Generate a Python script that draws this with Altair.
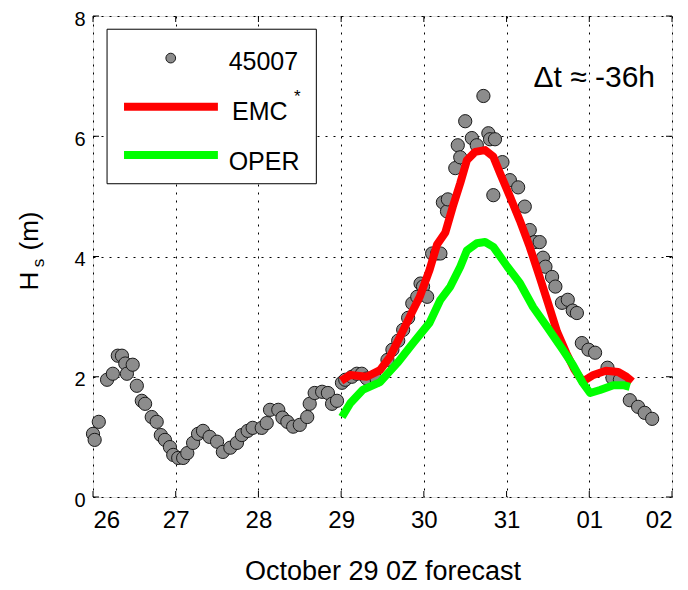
import altair as alt
import pandas as pd

# ---------------- data ----------------
obs_day = [26.00, 26.02, 26.07, 26.17, 26.24, 26.30, 26.35, 26.39, 26.41, 26.48,
           26.53, 26.59, 26.63, 26.71, 26.77, 26.82, 26.87, 26.93, 26.97, 27.03,
           27.09, 27.14, 27.21, 27.27, 27.33, 27.41, 27.50, 27.57, 27.66, 27.74,
           27.80, 27.87, 27.93, 28.04, 28.10, 28.14, 28.24, 28.29, 28.35, 28.42,
           28.50, 28.59, 28.62, 28.68, 28.77, 28.84, 28.89, 28.95, 29.01, 29.05,
           29.13, 29.19, 29.25, 29.31, 29.43, 29.56, 29.62, 29.69, 29.75, 29.81,
           29.86, 29.92, 29.96, 29.99, 30.04, 30.10, 30.16, 30.20, 30.23, 30.28,
           30.29, 30.38, 30.41, 30.44, 30.50, 30.58, 30.64, 30.72, 30.78, 30.80,
           30.84, 30.86, 30.95, 31.04, 31.14, 31.22, 31.28, 31.34, 31.40, 31.44,
           31.47, 31.55, 31.59, 31.67, 31.74, 31.80, 31.85, 31.91, 31.99, 32.07,
           32.22, 32.28, 32.37, 32.49, 32.59, 32.67, 32.76]
obs_hs = [1.05, 0.95, 1.25, 1.95, 2.05, 2.35, 2.35, 2.22, 2.05, 2.20,
          1.85, 1.60, 1.55, 1.33, 1.25, 1.03, 0.95, 0.83, 0.70, 0.65,
          0.65, 0.73, 0.90, 1.05, 1.10, 1.00, 0.92, 0.75, 0.82, 0.90,
          1.03, 1.10, 1.15, 1.15, 1.23, 1.45, 1.45, 1.32, 1.25, 1.17,
          1.20, 1.33, 1.55, 1.73, 1.75, 1.73, 1.55, 1.60, 1.90, 1.95,
          2.00, 2.05, 2.05, 1.97, 1.95, 2.28, 2.45, 2.60, 2.78, 2.98,
          3.22, 3.33, 3.55, 3.50, 3.33, 4.05, 4.05, 4.05, 4.90, 4.75,
          4.95, 5.47, 5.85, 5.65, 6.25, 5.97, 5.85, 6.67, 6.05, 5.95,
          5.02, 5.95, 5.57, 5.27, 5.15, 4.83, 4.44, 4.24, 4.24, 3.98,
          3.83, 3.66, 3.50, 3.23, 3.28, 3.10, 3.06, 2.56, 2.45, 2.40,
          2.15, 1.98, 1.95, 1.61, 1.50, 1.40, 1.30]

emc_day = [29.00, 29.11, 29.31, 29.47, 29.59, 29.71, 29.83, 29.95, 30.07, 30.16,
           30.26, 30.35, 30.44, 30.52, 30.62, 30.74, 30.84, 30.92, 31.04, 31.16,
           31.28, 31.40, 31.50, 31.61, 31.72, 31.82, 31.92, 32.05, 32.20, 32.35,
           32.45, 32.52]
emc_hs = [1.93, 2.03, 2.00, 2.11, 2.33, 2.66, 3.00, 3.33, 3.78, 4.20,
          4.40, 4.83, 5.22, 5.60, 5.74, 5.77, 5.66, 5.39, 5.00, 4.60,
          4.16, 3.66, 3.23, 2.75, 2.40, 2.12, 1.92, 2.03, 2.10, 2.08,
          2.00, 1.92]

oper_day = [29.01, 29.11, 29.26, 29.47, 29.68, 29.87, 30.07, 30.20, 30.32, 30.44,
            30.52, 30.64, 30.74, 30.84, 31.01, 31.16, 31.32, 31.49, 31.68, 31.80,
            31.92, 32.01, 32.13, 32.29, 32.41, 32.49]
oper_hs = [1.33, 1.56, 1.78, 1.91, 2.23, 2.56, 2.90, 3.28, 3.50, 3.83,
           4.10, 4.22, 4.24, 4.16, 3.83, 3.56, 3.16, 2.83, 2.45, 2.20,
           1.90, 1.73, 1.78, 1.86, 1.86, 1.83]

x_ticks = [26, 27, 28, 29, 30, 31, 32, 33]
y_ticks = [0, 2, 4, 6, 8]

series_names = ["45007", "EMC", "OPER"]

# ---------------- layout / style ----------------
W, H = 579, 481
FONT = "Liberation Sans"
TICK = 6

xs = alt.Scale(domain=[26, 33], nice=False, zero=False)
ys = alt.Scale(domain=[0, 8], nice=False, zero=False)

label_expr = ("datum.value > 31 ? format(datum.value - 31, '02d') : "
              "format(datum.value, 'd')")

x_axis = alt.Axis(values=x_ticks, labelExpr=label_expr, title="October 29 0Z forecast",
                  grid=True, gridDash=[2, 6], gridColor="black", gridWidth=1,
                  gridOpacity=1, ticks=False, domain=False, labelFontSize=24,
                  labelPadding=11, titleFontSize=27, titlePadding=26,
                  titleFontWeight="normal", labelFont=FONT, titleFont=FONT,
                  labelColor="black", titleColor="black")
y_axis = alt.Axis(values=y_ticks, title="", grid=True, gridDash=[2, 6],
                  gridColor="black", gridWidth=1, gridOpacity=1, ticks=False,
                  domain=False, labelFontSize=20, labelPadding=8, labelFont=FONT,
                  labelColor="black", labelOffset=3)


def X(field="day"):
    return alt.X(f"{field}:Q", scale=xs, axis=x_axis)


def Y(field="hs"):
    return alt.Y(f"{field}:Q", scale=ys, axis=y_axis)


obs_df = pd.DataFrame({"day": obs_day, "hs": obs_hs})
emc_df = pd.DataFrame({"day": emc_day, "hs": emc_hs})
oper_df = pd.DataFrame({"day": oper_day, "hs": oper_hs})
xt_df = pd.DataFrame({"day": x_ticks})
yt_df = pd.DataFrame({"hs": y_ticks})

points = alt.Chart(obs_df).mark_point(
    shape="circle", filled=True, size=175, fill="#8c8c8c", fillOpacity=1,
    stroke="#1a1a1a", strokeWidth=1, opacity=1
).encode(x=X(), y=Y())

emc_line = alt.Chart(emc_df).mark_line(
    color="#ff0000", strokeWidth=8, strokeJoin="round"
).encode(x=X(), y=Y(), order="day:Q")

oper_line = alt.Chart(oper_df).mark_line(
    color="#00ff00", strokeWidth=8, strokeJoin="round"
).encode(x=X(), y=Y(), order="day:Q")

# inward ticks on all four sides
tick_b = alt.Chart(xt_df).mark_rule(color="black", strokeWidth=1).encode(
    x=X(), y=alt.value(H), y2=alt.value(H - TICK))
tick_t = alt.Chart(xt_df).mark_rule(color="black", strokeWidth=1).encode(
    x=X(), y=alt.value(0), y2=alt.value(TICK))
tick_l = alt.Chart(yt_df).mark_rule(color="black", strokeWidth=1).encode(
    y=Y(), x=alt.value(0), x2=alt.value(TICK))
tick_r = alt.Chart(yt_df).mark_rule(color="black", strokeWidth=1).encode(
    y=Y(), x=alt.value(W), x2=alt.value(W - TICK))

# ---------------- legend (in data coordinates) ----------------
box_df = pd.DataFrame({"day": [26.17], "day2": [28.70], "hs": [7.78], "hs2": [5.21]})
legend_box = alt.Chart(box_df).mark_rect(
    fill="white", stroke="black", strokeWidth=1
).encode(x=X(), x2="day2:Q", y=Y(), y2="hs2:Q")

leg_pt = alt.Chart(pd.DataFrame({"day": [26.94], "hs": [7.30]})).mark_point(
    shape="circle", filled=True, size=95, fill="#8c8c8c", fillOpacity=1,
    stroke="#1a1a1a", strokeWidth=1, opacity=1
).encode(x=X(), y=Y())

leg_lines_df = pd.DataFrame({"day": [26.375, 26.375], "day2": [27.51, 27.51],
                             "hs": [6.49, 5.69], "name": series_names[1:]})
leg_lines = alt.Chart(leg_lines_df).mark_rule(strokeWidth=8).encode(
    x=X(), x2="day2:Q", y=Y(),
    color=alt.Color("name:N", scale=alt.Scale(domain=series_names[1:],
                                              range=["#ff0000", "#00ff00"]),
                    legend=None))

leg_text_df = pd.DataFrame({"day": [27.64, 27.68, 27.64],
                            "hs": [7.23, 6.40, 5.57],
                            "t": series_names})
leg_text = alt.Chart(leg_text_df).mark_text(
    align="left", baseline="middle", fontSize=25, font=FONT, color="black"
).encode(x=X(), y=Y(), text="t:N")

star = alt.Chart(pd.DataFrame({"day": [28.43], "hs": [6.66], "t": ["*"]})).mark_text(
    align="left", baseline="middle", fontSize=17, font=FONT, color="black"
).encode(x=X(), y=Y(), text="t:N")

dt_text = alt.Chart(pd.DataFrame({"day": [32.06], "hs": [6.97], "t": ["\u0394t \u2248 -36h"]})).mark_text(
    align="center", baseline="middle", fontSize=30, font=FONT, color="black"
).encode(x=X(), y=Y(), text="t:N")

# ---------------- y-axis title: H_s (m) ----------------
yt_H = alt.Chart(pd.DataFrame({"t": ["H"]})).mark_text(
    angle=270, align="center", baseline="middle", fontSize=26, font=FONT, color="black"
).encode(x=alt.value(-63), y=alt.value(265), text="t:N")
yt_s = alt.Chart(pd.DataFrame({"t": ["s"]})).mark_text(
    angle=270, align="center", baseline="middle", fontSize=17, font=FONT, color="black"
).encode(x=alt.value(-54), y=alt.value(247), text="t:N")
yt_m = alt.Chart(pd.DataFrame({"t": ["(m)"]})).mark_text(
    angle=270, align="center", baseline="middle", fontSize=26, font=FONT, color="black"
).encode(x=alt.value(-63), y=alt.value(215), text="t:N")

chart = alt.layer(
    points, emc_line, oper_line,
    tick_b, tick_t, tick_l, tick_r,
    legend_box, leg_pt, leg_lines, leg_text, star, dt_text,
    yt_H, yt_s, yt_m
).properties(
    width=W, height=H,
    autosize=alt.AutoSizeParams(type="none"),
    padding={"left": 85, "top": 8, "right": 8, "bottom": 90}
).configure_view(
    stroke="black", strokeWidth=1
).configure(background="white")

chart.save("out.html", embed_options={"renderer": "svg", "actions": False})
